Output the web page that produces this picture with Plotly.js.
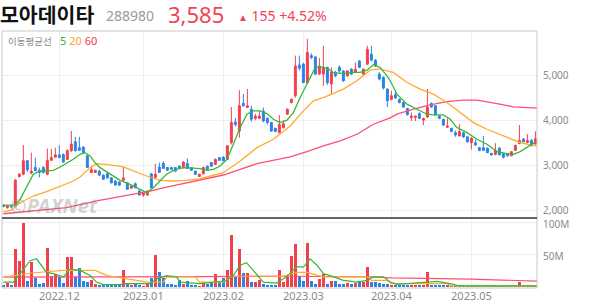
<!DOCTYPE html>
<html><head><meta charset="utf-8">
<script src="https://cdn.plot.ly/plotly-3.0.1.min.js"></script>
<style>html,body{margin:0;padding:0;background:#fff}#c{width:594px;height:304px}</style>
</head><body><div id="c"></div>
<script>
// ---- data ----
const openP = [2110,2060,2100,2090,2750,2800,3100,2830,2950,2890,2950,2800,3110,3180,3230,3240,3130,3320,3520,3390,
3400,3210,2840,2840,2870,2780,2810,2720,2650,2630,2670,2610,2490,2590,2430,2340,2340,2810,2730,2960,
3040,2950,2950,2950,2980,2950,3040,2950,2870,2750,2810,2980,3060,3020,3170,3180,3130,3500,3960,3760,
4370,4280,4240,4040,4040,4200,4040,3950,3820,3720,3830,4130,4390,4540,5220,5240,4830,5430,5400,5020,
5020,5170,4800,5060,5170,5090,4980,5130,5060,5310,5020,5240,5460,5330,5020,4950,4690,4460,4560,4460,
4390,4260,4060,4060,4150,4000,4070,4370,4320,4090,4020,3840,3820,3720,3650,3720,3630,3500,3500,3390,
3390,3380,3260,3240,3380,3260,3260,3210,3330,3480,3580,3500,3550,3470];
const highP = [2140,2120,2120,2690,2830,3450,3110,3280,3170,2950,2980,3370,3360,3390,3440,3260,3360,3760,3630,3630,
3420,3230,2990,2900,2900,2800,2830,2740,2670,2640,2960,2630,2560,2620,2450,2400,2440,2830,3030,3060,
3090,2960,2960,2960,3000,3090,3150,2960,2880,2810,2970,2990,3070,3150,3180,3200,3450,4290,4050,4660,
4580,4690,4320,4140,4200,4280,4060,3960,3830,4110,3990,4260,4480,5430,5430,5270,5800,5480,5420,5380,
5650,5180,5170,5090,5210,5100,5110,5150,5280,5330,5150,5650,5650,5350,5060,4970,4700,4650,4650,4480,
4400,4270,4170,4100,4170,4050,4690,4390,4330,4110,4030,4040,3830,3770,3910,3740,3640,3620,3570,3400,
3650,3390,3280,3490,3400,3270,3270,3310,3460,3890,3600,3690,3580,3750];
const lowP = [2070,2040,2060,2070,2730,2780,2850,2800,2870,2730,2820,2780,3100,3170,3160,3060,3120,3300,3310,3320,
3260,2940,2830,2830,2770,2680,2700,2600,2550,2540,2640,2460,2480,2490,2330,2300,2320,2490,2720,2830,
2920,2880,2900,2860,2920,2940,2920,2880,2790,2740,2800,2900,2970,3010,3100,3090,3120,3460,3860,3610,
4300,4270,3970,4000,4030,3950,3900,3740,3730,3710,3820,4120,4370,4500,5100,4820,4800,5350,5000,5000,
4760,4780,4580,4950,5050,4850,4960,5000,5040,5150,5000,5220,5300,5180,4880,4680,4290,4440,4470,4370,
4270,4100,3980,3980,4020,3890,4050,4270,4100,4020,3870,3830,3730,3630,3640,3610,3500,3350,3430,3310,
3320,3270,3210,3220,3220,3150,3190,3200,3320,3470,3510,3490,3430,3460];
const closeP = [2085,2100,2080,2670,2800,3100,2900,2870,2880,2840,2840,3110,3170,3230,3170,3070,3320,3470,3320,3330,
3280,2950,2900,2890,2780,2690,2720,2610,2560,2560,2720,2470,2540,2500,2340,2390,2430,2500,2800,2840,
2930,2890,2910,2870,2930,3070,2930,2890,2800,2800,2950,2910,2980,3130,3110,3100,3430,3950,3900,4320,
4320,4320,4020,4090,4090,3980,3950,3760,3750,3900,3920,4240,4460,5200,5150,4830,5500,5390,5020,5200,
5170,4830,5060,4980,5090,4870,5090,5020,5130,5170,5130,5570,5330,5200,4910,4710,4430,4540,4490,4390,
4290,4120,4090,4090,4040,4040,4290,4290,4120,4040,3890,3870,3750,3670,3750,3630,3520,3600,3450,3330,
3330,3280,3230,3330,3230,3180,3210,3300,3440,3550,3520,3550,3430,3585];
// volume, millions of shares
const volumeM = [4,6.5,4,59,40,99,10,39,14,5,6.5,60,17,21,16,6.5,47,47,16,30,
9.5,8,10.5,5,4,4,4,5.5,3,3,27,5.5,4,6,4,2,5.5,14,50,23,
14,4.5,4.5,3,11.5,5.5,10,4,3,1.5,8,5,8,20,8,14,26,80,16,59,
22,22,8,8,10.5,5.5,4,3,3,27,8,16,49,67,18,9,69,9,5.5,12,
20,4.5,10,10,4.5,4.5,7,4.5,7,9,8,32,8,8,6.5,5,5,4,4,3,
3,3,3,3,3,3,23,4,3.5,3,3,3,2.5,2.5,2.5,2,2,1.5,1.5,1.5,
1.5,1.5,1.5,1.5,1.5,1.5,1.5,1.5,1.5,8,2,1.5,1.5,2];
// moving averages (bar index, value)
const ma5Idx = [0,3,4.2,5.8,7.5,9.2,10.8,12.5,14.2,15.8,17.5,19.2,20.4,21.7,22.9,24.2,26.7,29.2,31.7,34.2,35.8,37.5,39.2,40.8,42.5,44.2,45.8,47.5,49.2,50.9,52.5,54.2,55.9,57.5,59.2,60.9,62.5,64.2,65.9,67.5,69.2,70.9,72.5,74.2,75.5,76.7,78,79.2,80.9,82.5,84.2,85.9,87.5,89.2,90.9,92.5,94.2,95.9,96.7,98.4,100.9,103.4,105.9,107.5,110,111.7,113.4,115.9,118.4,120.9,123.4,125.9,127.5,129.2,130.9,132.5,133.4];
const ma5Val = [2118,2118,2244,2500,2800,2873,2873,2888,2962,3036,3132,3243,3280,3206,3058,2947,2800,2666,2577,2466,2392,2503,2651,2800,2888,2932,2947,2932,2925,2888,2910,2984,3132,3465,3835,4131,4205,4205,4146,4020,3946,3998,4168,4501,4723,4945,5167,5182,5152,5056,5034,5034,5056,5056,5108,5226,5167,4982,4871,4575,4353,4242,4131,4116,4116,4020,3835,3724,3576,3465,3302,3258,3243,3302,3391,3480,3539];
const ma20Idx = [0,2,4.2,7.5,10.8,14.2,17.5,19.2,21.7,23.3,25.8,30,32.5,35.8,39.2,42.5,45.8,49.2,50.9,55,59.2,63.4,67.5,71.7,75,77.5,80,82.5,85,88.4,91.7,93.4,94.2,97.5,100.9,104.2,107.5,110.9,114.2,117.5,120.9,124.2,127.5,129.2,131.7,133.4];
const ma20Val = [1960,2010,2170,2318,2414,2540,2651,2740,2947,3036,3021,2962,2873,2762,2666,2651,2666,2703,2740,2836,3095,3391,3576,3872,4205,4427,4501,4590,4686,4871,5108,5130,5130,5056,4834,4686,4575,4390,4168,3946,3798,3687,3576,3502,3450,3428];
const ma60Idx = [0,7.5,15.8,24,32.5,36.7,40.8,49.2,55,63.4,71.7,75.9,80,84.2,88.4,92.5,96.7,98.4,102.5,106.7,110.9,115,118.4,123.4,127.5,133.4];
const ma60Val = [1926,1985,2059,2220,2355,2429,2518,2670,2784,3036,3184,3302,3428,3539,3687,3909,4050,4131,4242,4338,4412,4442,4442,4368,4294,4264];
const vma5Idx = [0,2.5,4.2,6.7,8.3,10.8,12.5,15,16.7,19.2,21.7,23.3,25,29.2,30.8,36.7,38.3,40.8,43.3,44.2,49.2,55.8,57.5,59.2,60.8,62.5,65,68.3,70.8,73.3,75,76.7,78.4,80,81.7,85,88.4,90.9,92.5,95,96.7,98.4,105,108.4,111.7,113.4,115,133.4];
const vma5Val = [8,8,21,41,44,23,21,16,28,26,18,8,4,4,5.5,5.5,13,18,16,8,5.5,10,18,34,38,26,8,6.5,16,32,31,44,34,21,18,10.5,8,10.5,16,16,8,4.5,8,9,5.5,3,2,2];
const vma20Idx = [0,7,15,23,26,32,36,40,41,48,49,55,57,70,72,74,76,80,91,92,96,97,111,112,133.4];
const vma20Val = [15.7,22,26,26,18,12,8,8,16,16,8,8,17,17,21,23,23,16,16,10.5,10.5,5.5,5.5,2,2];
const vma60Idx = [0,25,50,72,92,97,117,133.4];
const vma60Val = [15.7,15.7,16.5,17,16,14.5,12.5,9.5];
// axis ticks
const monthTickIdx = [14,35,55,75,97,117];
const monthTickText = ['2022.12','2023.01','2023.02','2023.03','2023.04','2023.05'];
const priceTicks = [2000,3000,4000,5000];
const volTicks = [50,100];
const volTickText = ['50M','100M'];
// header
const stockName = '모아데이타', stockCode = '288980', lastPrice = '3,585', change = '155', changePct = '+4.52%';

// ---- drawing ----
const UP = '#f2404c', DOWN = '#2c83e6';
const idx = closeP.map((_, i) => i);
const volColors = closeP.map((c, i) => c >= openP[i] ? UP : DOWN);
const L = 2, W = 535, T = 31, H = 257;
const px = v => (v - L) / W, py = v => (T + H - v) / H;
const tickFont = {family: 'Noto Sans, DejaVu Sans, sans-serif', size: 10, color: '#8a8a8a'};

const traces = [
  {type: 'candlestick', x: idx, open: openP, high: highP, low: lowP, close: closeP, xaxis: 'x', yaxis: 'y',
   increasing: {line: {color: UP, width: 1}, fillcolor: UP}, decreasing: {line: {color: DOWN, width: 1}, fillcolor: DOWN},
   whiskerwidth: 0, hoverinfo: 'skip', showlegend: false},
  {type: 'scatter', mode: 'lines', x: ma60Idx, y: ma60Val, xaxis: 'x', yaxis: 'y', line: {color: '#ff4f72', width: 1.3}, hoverinfo: 'skip', showlegend: false},
  {type: 'scatter', mode: 'lines', x: ma20Idx, y: ma20Val, xaxis: 'x', yaxis: 'y', line: {color: '#ffab2e', width: 1.3}, hoverinfo: 'skip', showlegend: false},
  {type: 'scatter', mode: 'lines', x: ma5Idx, y: ma5Val, xaxis: 'x', yaxis: 'y', line: {color: '#36b936', width: 1.3}, hoverinfo: 'skip', showlegend: false},
  {type: 'bar', x: idx, y: volumeM, xaxis: 'x', yaxis: 'y2', marker: {color: volColors, line: {width: 0}}, width: 0.72, hoverinfo: 'skip', showlegend: false},
  {type: 'scatter', mode: 'lines', x: vma60Idx, y: vma60Val, xaxis: 'x', yaxis: 'y2', line: {color: '#ff4f72', width: 1.2}, hoverinfo: 'skip', showlegend: false},
  {type: 'scatter', mode: 'lines', x: vma20Idx, y: vma20Val, xaxis: 'x', yaxis: 'y2', line: {color: '#ffab2e', width: 1.2}, hoverinfo: 'skip', showlegend: false},
  {type: 'scatter', mode: 'lines', x: vma5Idx, y: vma5Val, xaxis: 'x', yaxis: 'y2', line: {color: '#36b936', width: 1.2}, hoverinfo: 'skip', showlegend: false}
];

const layout = {
  width: 594, height: 304, margin: {l: L, r: 594 - L - W, t: T, b: 304 - T - H},
  paper_bgcolor: '#fff', plot_bgcolor: '#fff', showlegend: false, hovermode: false, bargap: 0,
  xaxis: {range: [-0.33, 133.4], anchor: 'y2', tickvals: monthTickIdx, ticktext: monthTickText, showgrid: true,
          gridcolor: '#efefef', gridwidth: 1, zeroline: false, showline: false, ticks: '', tickfont: {...tickFont, size: 11},
          rangeslider: {visible: false}, fixedrange: true},
  yaxis: {domain: [0.273, 1], range: [1835, 5975], side: 'right', tickvals: priceTicks, tickformat: ',d',
          showgrid: true, gridcolor: '#efefef', zeroline: false, showline: false, ticks: '', tickfont: tickFont, ticklabelstandoff: 5},
  yaxis2: {domain: [0, 0.271], range: [-1.2, 106.5], side: 'right', tickvals: volTicks, ticktext: volTickText, ticklabelshift: 2,
           showgrid: true, gridcolor: '#efefef', zeroline: false, showline: false, ticks: '', tickfont: tickFont, ticklabelstandoff: 5},
  shapes: [
    {type: 'rect', xref: 'paper', yref: 'paper', x0: 0, x1: 1, y0: 0, y1: 1, line: {color: '#c8c8c8', width: 1}},
    {type: 'line', xref: 'paper', yref: 'paper', x0: 0, x1: 1, y0: 0.272, y1: 0.272, line: {color: '#333', width: 1.5}}
  ],
  annotations: [
    {xref: 'paper', yref: 'paper', x: px(-2), y: py(14), xanchor: 'left', yanchor: 'middle', showarrow: false,
     text: stockName, font: {family: 'Noto Sans CJK KR', size: 20.5, color: '#111', weight: 'bold'}},
    {xref: 'paper', yref: 'paper', x: px(104), y: py(15), xanchor: 'left', yanchor: 'middle', showarrow: false,
     text: stockCode, font: {family: 'Noto Sans, sans-serif', size: 14, color: '#999'}},
    {xref: 'paper', yref: 'paper', x: px(166), y: py(14), xanchor: 'left', yanchor: 'middle', showarrow: false,
     text: lastPrice, font: {family: 'Noto Sans, sans-serif', size: 22, color: '#f04452'}},
    {xref: 'paper', yref: 'paper', x: px(236), y: py(15), xanchor: 'left', yanchor: 'middle', showarrow: false,
     text: '<span style="font-size:10px">▲</span> ' + change + ' ' + changePct, font: {family: 'Noto Sans, sans-serif', size: 14, color: '#f04452'}},
    {xref: 'paper', yref: 'paper', x: px(6), y: py(41), xanchor: 'left', yanchor: 'middle', showarrow: false,
     text: '이동평균선', font: {family: 'Noto Sans CJK KR', size: 9.5, color: '#888'}},
    {xref: 'paper', yref: 'paper', x: px(58), y: py(41), xanchor: 'left', yanchor: 'middle', showarrow: false,
     text: '<span style="color:#2fb52f">5</span> <span style="color:#ffa726">20</span> <span style="color:#f2365e">60</span>',
     font: {family: 'Noto Sans, sans-serif', size: 11, color: '#888'}},
    {xref: 'paper', yref: 'paper', x: px(8), y: py(205), xanchor: 'left', yanchor: 'middle', showarrow: false,
     text: '<b><i>©PAXNet</i></b>', font: {family: 'Noto Sans, sans-serif', size: 20, color: 'rgba(140,140,140,0.4)'}}
  ]
};
Plotly.newPlot('c', traces, layout, {staticPlot: true, displayModeBar: false});
</script></body></html>
